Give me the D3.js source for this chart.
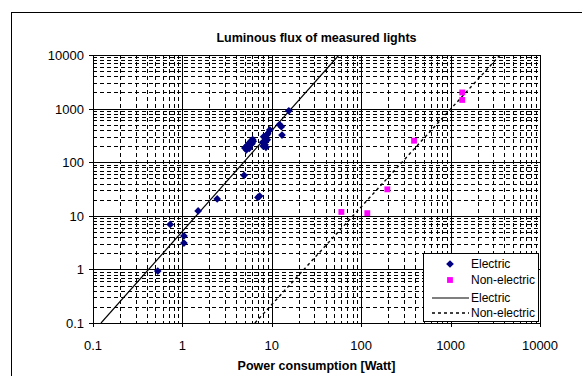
<!DOCTYPE html>
<html>
<head>
<meta charset="utf-8">
<script src="https://cdn.jsdelivr.net/npm/d3@7"></script>
<style>
  body { margin: 0; background: #fff; }
  svg { display: block; font-family: "Liberation Sans", Arial, sans-serif; }
</style>
</head>
<body>
<div id="chart"></div>
<script>
// measured lights: [power W, flux lm]
var electric = [
    [0.53, 0.93], [1.04, 3.1], [1.04, 4.2], [0.73, 6.9], [1.5, 12.3],
    [2.45, 20.6], [4.9, 57], [7.3, 23.4], [7.0, 22],
    [5.2, 170], [5.4, 190], [5.3, 205], [5.6, 182], [5.5, 215], [5.7, 232],
    [5.9, 250], [6.1, 265], [6.0, 222], [5.8, 240], [6.2, 245], [5.0, 185],
    [8.0, 200], [8.2, 240], [8.5, 280], [8.8, 322], [9.0, 340], [8.4, 212],
    [8.9, 262], [8.1, 300], [8.6, 190], [7.9, 235],
    [9.5, 400], [12.2, 505], [12.8, 460], [13.0, 320], [15.5, 910]
];

var nonElectric = [
    [60, 11.8], [117, 11.2], [196, 31.2], [390, 252], [1350, 2000], [1350, 1450]
];

// power trendlines, read as end points where they meet the plot edges
var electricTrend = [[0.123, 0.1], [56.4, 10000]];
var nonElectricTrend = [[6.47, 0.1], [3580, 10000]];

var decades = [0.1, 1, 10, 100, 1000, 10000];
var tickLabels = ["0.1", "1", "10", "100", "1000", "10000"];

var legendItems = ["Electric", "Non-electric", "Electric", "Non-electric"];

const width = 582, height = 376;
const plot = { left: 93, right: 540, top: 55, bottom: 323 };

var x = d3.scaleLog().domain([0.1, 10000]).range([plot.left, plot.right]);
var y = d3.scaleLog().domain([0.1, 10000]).range([plot.bottom, plot.top]);

var svg = d3.select("#chart").append("svg")
    .attr("width", width)
    .attr("height", height);

// chart area border (runs off right / bottom)
svg.append("rect")
    .attr("x", 11.5).attr("y", 12.5)
    .attr("width", 640).attr("height", 420)
    .attr("fill", "white")
    .attr("stroke", "black");

svg.append("text")
    .attr("x", (plot.left + plot.right) / 2)
    .attr("y", 42)
    .attr("text-anchor", "middle")
    .style("font-size", "12.5px")
    .style("font-weight", "bold")
    .text("Luminous flux of measured lights");

// minor values 2..9 of each decade
var minor = [];
decades.slice(0, -1).forEach(function (d) {
    for (var k = 2; k <= 9; k++) minor.push(d * k);
});

var grid = svg.append("g");

grid.selectAll(".vminor")
    .data(minor).enter().append("line")
    .attr("x1", d => Math.round(x(d)) + 0.5).attr("x2", d => Math.round(x(d)) + 0.5)
    .attr("y1", plot.top).attr("y2", plot.bottom)
    .attr("stroke", "black").attr("stroke-dasharray", "4,3");

grid.selectAll(".hminor")
    .data(minor).enter().append("line")
    .attr("y1", d => Math.round(y(d)) + 0.5).attr("y2", d => Math.round(y(d)) + 0.5)
    .attr("x1", plot.left).attr("x2", plot.right)
    .attr("stroke", "black").attr("stroke-dasharray", "4,3");

grid.selectAll(".vmajor")
    .data(decades).enter().append("line")
    .attr("x1", d => Math.round(x(d)) + 0.5).attr("x2", d => Math.round(x(d)) + 0.5)
    .attr("y1", plot.top).attr("y2", plot.bottom + 4)
    .attr("stroke", "black");

grid.selectAll(".hmajor")
    .data(decades).enter().append("line")
    .attr("y1", d => Math.round(y(d)) + 0.5).attr("y2", d => Math.round(y(d)) + 0.5)
    .attr("x1", plot.left - 4).attr("x2", plot.right)
    .attr("stroke", "black");

// tick labels
svg.selectAll(".xlab")
    .data(decades).enter().append("text")
    .attr("x", d => x(d))
    .attr("y", 350)
    .attr("text-anchor", "middle")
    .style("font-size", "13px")
    .text((d, i) => tickLabels[i]);

svg.selectAll(".ylab")
    .data(decades).enter().append("text")
    .attr("x", plot.left - 9)
    .attr("y", d => y(d) + 5)
    .attr("text-anchor", "end")
    .style("font-size", "13px")
    .text((d, i) => tickLabels[i]);

svg.append("text")
    .attr("x", (plot.left + plot.right) / 2)
    .attr("y", 370)
    .attr("text-anchor", "middle")
    .style("font-size", "12.5px")
    .style("font-weight", "bold")
    .text("Power consumption [Watt]");

// y title is cut off at the top in the original
svg.append("clipPath").attr("id", "ytitle-clip")
    .append("rect").attr("x", 0).attr("y", 137).attr("width", 80).attr("height", 200);

svg.append("text")
    .attr("clip-path", "url(#ytitle-clip)")
    .attr("transform", "translate(47," + (plot.top + plot.bottom) / 2 + ") rotate(-90)")
    .attr("text-anchor", "middle")
    .style("font-size", "12.5px")
    .style("font-weight", "bold")
    .text("Luminous flux [lm]");

// trendlines
svg.append("clipPath").attr("id", "plot-clip")
    .append("rect")
    .attr("x", plot.left).attr("y", plot.top)
    .attr("width", plot.right - plot.left).attr("height", plot.bottom - plot.top);

var line = d3.line().x(d => x(d[0])).y(d => y(d[1]));

svg.append("path")
    .attr("clip-path", "url(#plot-clip)")
    .attr("d", line(electricTrend))
    .attr("fill", "none").attr("stroke", "black").attr("stroke-width", 1.2);

svg.append("path")
    .attr("clip-path", "url(#plot-clip)")
    .attr("d", line(nonElectricTrend))
    .attr("fill", "none").attr("stroke", "black").attr("stroke-width", 1.4)
    .attr("stroke-dasharray", "3,3");

// points
var diamond = d3.symbol().type(d3.symbolSquare).size(30);
var square = d3.symbol().type(d3.symbolSquare).size(34);

svg.append("g").selectAll("path")
    .data(electric).enter().append("path")
    .attr("d", diamond)
    .attr("transform", d => "translate(" + x(d[0]) + "," + y(d[1]) + ") rotate(45)")
    .attr("fill", "#000080");

svg.append("g").selectAll("path")
    .data(nonElectric).enter().append("path")
    .attr("d", square)
    .attr("transform", d => "translate(" + x(d[0]) + "," + y(d[1]) + ")")
    .attr("fill", "#ff00ff");

// legend
var lg = svg.append("g").attr("transform", "translate(423,253)");
lg.append("rect")
    .attr("x", 0.5).attr("y", 0.5)
    .attr("width", 115).attr("height", 68)
    .attr("fill", "white").attr("stroke", "black");

var rowY = [11, 27, 45, 60];
lg.append("path").attr("d", diamond)
    .attr("transform", "translate(27," + rowY[0] + ") rotate(45)")
    .attr("fill", "#000080");
lg.append("path").attr("d", square)
    .attr("transform", "translate(27," + rowY[1] + ")")
    .attr("fill", "#ff00ff");
lg.append("line")
    .attr("x1", 9).attr("x2", 46).attr("y1", rowY[2]).attr("y2", rowY[2])
    .attr("stroke", "black").attr("stroke-width", 1.2);
lg.append("line")
    .attr("x1", 9).attr("x2", 46).attr("y1", rowY[3]).attr("y2", rowY[3])
    .attr("stroke", "black").attr("stroke-width", 1.4).attr("stroke-dasharray", "3,3");

lg.selectAll(".ltext")
    .data(legendItems).enter().append("text")
    .attr("x", 48)
    .attr("y", (d, i) => rowY[i] + 4)
    .style("font-size", "12px")
    .text(d => d);
</script>
</body>
</html>
